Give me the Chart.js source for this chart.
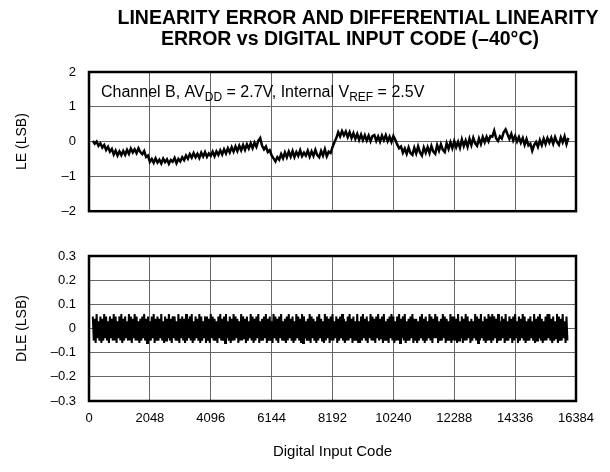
<!DOCTYPE html>
<html>
<head>
<meta charset="utf-8">
<script src="https://cdn.jsdelivr.net/npm/chart.js@4.4.1/dist/chart.umd.min.js"></script>
<style>
  body { margin: 0; background: #fff; }
  #wrap { position: relative; width: 610px; height: 472px; }
  canvas { position: absolute; left: 0; }
  #leChart { top: 0; }
  #dleChart { top: 232px; }
</style>
</head>
<body>
<div id="wrap">
  <canvas id="leChart" width="610" height="232"></canvas>
  <canvas id="dleChart" width="610" height="240"></canvas>
</div>
<script>
// x axis: 14-bit code range, gridline every 2048 codes
var codeTicks = [0, 2048, 4096, 6144, 8192, 10240, 12288, 14336, 16384];
var leTicks = [2, 1, 0, -1, -2];
var dleTicks = [0.3, 0.2, 0.1, 0, -0.1, -0.2, -0.3];

// LE samples, one every 64 codes starting at code 128 (LSB)
var leStartCode = 128;
var leStepCode = 64;
var leValues = [
  0.02, -0.06, 0.00, -0.12, -0.05, -0.17, -0.10, -0.24, -0.15, -0.29, -0.21, -0.37, -0.26, -0.40, -0.28, -0.39,
  -0.27, -0.38, -0.24, -0.35, -0.20, -0.31, -0.22, -0.33, -0.19, -0.30, -0.36, -0.27, -0.44, -0.40, -0.58, -0.50,
  -0.61, -0.48, -0.60, -0.52, -0.63, -0.49, -0.59, -0.51, -0.64, -0.53, -0.58, -0.47, -0.62, -0.50, -0.57, -0.45,
  -0.53, -0.40, -0.49, -0.36, -0.46, -0.33, -0.45, -0.35, -0.47, -0.32, -0.43, -0.30, -0.44, -0.34, -0.41, -0.29,
  -0.42, -0.28, -0.38, -0.25, -0.37, -0.22, -0.34, -0.19, -0.31, -0.16, -0.29, -0.14, -0.27, -0.12, -0.25, -0.10,
  -0.24, -0.08, -0.20, -0.05, -0.19, -0.03, -0.15, 0.02, 0.10, -0.12, -0.22, -0.14, -0.30, -0.25, -0.40, -0.48,
  -0.57, -0.45, -0.52, -0.36, -0.48, -0.31, -0.45, -0.29, -0.43, -0.27, -0.44, -0.30, -0.41, -0.25, -0.42, -0.32,
  -0.40, -0.26, -0.43, -0.28, -0.41, -0.24, -0.39, -0.45, -0.27, -0.40, -0.22, -0.42, -0.29, -0.33, -0.16, -0.02,
  0.10, 0.27, 0.15, 0.30, 0.18, 0.29, 0.13, 0.27, 0.10, 0.24, 0.08, 0.22, 0.05, 0.20, 0.04, 0.18,
  0.03, 0.17, 0.01, 0.16, 0.19, 0.02, 0.15, 0.00, 0.17, 0.04, 0.18, 0.01, 0.14, -0.01, 0.16, 0.05,
  -0.08, -0.19, -0.14, -0.32, -0.20, -0.35, -0.17, -0.33, -0.38, -0.18, -0.34, -0.14, -0.31, -0.40, -0.17, -0.32,
  -0.16, -0.33, -0.13, -0.29, -0.35, -0.10, -0.26, -0.08, -0.24, -0.30, -0.05, -0.21, -0.02, -0.19, 0.01, -0.16,
  -0.01, -0.18, 0.06, -0.13, 0.03, -0.15, 0.08, -0.10, 0.11, -0.05, -0.12, 0.09, -0.07, 0.13, -0.02, 0.14,
  0.01, 0.16, 0.14, 0.31, 0.10, 0.02, 0.15, 0.09, 0.27, 0.35, 0.21, 0.08, 0.22, 0.03, 0.16, 0.00,
  0.13, -0.03, 0.10, -0.09, 0.07, -0.11, -0.06, -0.26, -0.10, -0.01, -0.15, 0.04, -0.10, 0.08, -0.07, 0.10,
  -0.03, 0.11, -0.06, 0.13, -0.01, -0.09, 0.12, -0.02, 0.15, -0.07, 0.11
];

// DLE samples, one every 32 codes starting at code 128, in hundredths of an LSB
var dleStartCode = 128;
var dleStepCode = 32;
var dleHundredths = [
  5, -5, 4, -6, 6, -4, 3, -5, 5, -6, 4, -5, 6, -4, 5, -5, 3, -6, 5, -4,
  4, -5, 6, -5, 5, -6, 3, -4, 5, -5, 6, -6, 4, -5, 5, -4, 3, -5, 6, -5,
  5, -6, 4, -4, 6, -5, 5, -5, 3, -6, 4, -5, 5, -4, 6, -5, 4, -6, 5, -5,
  3, -5, 5, -4, 6, -6, 4, -5, 5, -5, 4, -4, 6, -5, 3, -6, 5, -5, 4, -4,
  6, -5, 4, -6, 5, -4, 5, -5, 3, -5, 6, -6, 4, -4, 5, -5, 4, -6, 6, -5,
  4, -4, 5, -5, 6, -6, 3, -5, 5, -4, 4, -5, 6, -6, 5, -5, 3, -4, 5, -6,
  5, -5, 4, -6, 6, -4, 5, -5, 4, -5, 3, -6, 5, -4, 6, -5, 4, -5, 5, -6,
  6, -4, 3, -5, 5, -6, 4, -5, 6, -5, 5, -4, 4, -6, 3, -5, 6, -5, 5, -4,
  4, -6, 5, -5, 3, -4, 6, -5, 5, -6, 4, -5, 5, -4, 6, -6, 3, -5, 4, -5,
  5, -4, 6, -6, 4, -5, 5, -5, 3, -6, 6, -4, 5, -5, 4, -6, 5, -4, 6, -5,
  3, -5, 4, -6, 5, -5, 6, -4, 4, -5, 5, -6, 3, -5, 6, -4, 5, -5, 4, -6,
  6, -6, 5, -4, 3, -5, 4, -5, 6, -6, 5, -4, 4, -5, 3, -6, 5, -5, 6, -4,
  4, -5, 3, -6, 6, -5, 5, -4, 4, -6, 5, -5, 6, -5, 3, -4, 5, -6, 4, -5,
  5, -4, 6, -5, 4, -6, 3, -5, 5, -5, 6, -4, 4, -6, 5, -5, 3, -5, 6, -6,
  3, -6, 5, -5, 6, -4, 4, -5, 5, -6, 3, -4, 6, -5, 5, -5, 4, -6, 5, -4,
  6, -5, 4, -4, 5, -6, 6, -5, 3, -5, 4, -6, 5, -4, 6, -5, 5, -6, 3, -5,
  5, -5, 6, -6, 4, -4, 5, -5, 6, -6, 3, -5, 4, -5, 5, -4, 6, -6, 4, -5,
  4, -6, 3, -5, 5, -4, 6, -5, 4, -6, 5, -5, 3, -4, 6, -5, 5, -6, 4, -4,
  6, -4, 5, -6, 3, -5, 4, -5, 6, -4, 5, -6, 4, -5, 3, -5, 6, -6, 5, -5,
  5, -5, 4, -6, 6, -5, 3, -4, 5, -6, 4, -5, 6, -5, 5, -4, 3, -6, 4, -5,
  3, -4, 6, -5, 5, -6, 4, -5, 6, -4, 3, -5, 5, -6, 4, -5, 6, -5, 5, -6,
  6, -5, 5, -4, 4, -6, 6, -5, 3, -5, 5, -4, 4, -6, 6, -5, 3, -5, 5, -4,
  4, -6, 5, -5, 6, -4, 3, -6, 5, -5, 4, -4, 6, -5, 5, -6, 3, -5, 4, -5,
  5, -4, 3, -5, 6, -6, 4, -5, 5, -4, 6, -5, 4, -6, 3, -5, 5, -5, 6, -4,
  6, -5, 4, -6, 5, -5, 3, -4, 6, -6, 5, -5, 4, -5, 6, -4, 3, -6, 5, -5
];

var fontFamily = '"Liberation Sans", Arial, Helvetica, sans-serif';

function toPoints(start, step, values, scale) {
  return values.map(function (v, i) {
    return { x: start + i * step, y: v * scale };
  });
}

function dashLabel(value) {
  if (Math.abs(value) < 1e-9) return "0";
  var s = Number.isInteger(value) ? String(Math.abs(value)) : Math.abs(value).toFixed(1);
  return value < 0 ? "\u2013" + s : s;
}

// heavy black box around the plot area
var frame = {
  id: "frame",
  afterDatasetsDraw: function (chart) {
    var a = chart.chartArea;
    var ctx = chart.ctx;
    ctx.save();
    ctx.strokeStyle = "#000";
    ctx.lineWidth = 2.5;
    ctx.strokeRect(a.left, a.top, a.right - a.left, a.bottom - a.top);
    ctx.restore();
  }
};

// two-line heading plus the test-condition note with subscripts
var headings = {
  id: "headings",
  afterDraw: function (chart) {
    var ctx = chart.ctx;
    ctx.save();
    ctx.fillStyle = "#000";
    ctx.textAlign = "center";
    ctx.textBaseline = "alphabetic";
    ctx.font = "bold 19.5px " + fontFamily;
    ctx.fillText("LINEARITY ERROR AND DIFFERENTIAL LINEARITY", 358, 24);
    ctx.fillText("ERROR vs DIGITAL INPUT CODE (\u201340\u00B0C)", 350, 45);

    var parts = [
      ["Channel B, AV", false], ["DD", true], [" = 2.7V, Internal V", false],
      ["REF", true], [" = 2.5V", false]
    ];
    var x = 101;
    var base = 97;
    ctx.textAlign = "left";
    parts.forEach(function (p) {
      ctx.font = (p[1] ? "12px " : "16px ") + fontFamily;
      ctx.fillText(p[0], x, p[1] ? base + 4 : base);
      x += ctx.measureText(p[0]).width;
    });
    ctx.restore();
  }
};

var gridColor = "#666";

function xScale(showLabels) {
  return {
    type: "linear",
    min: 0,
    max: 16384,
    afterBuildTicks: function (scale) {
      scale.ticks = codeTicks.map(function (v) { return { value: v }; });
    },
    grid: { color: gridColor, lineWidth: 1, drawTicks: false },
    border: { display: false },
    ticks: {
      display: showLabels,
      autoSkip: false,
      maxRotation: 0,
      padding: 10,
      color: "#000",
      font: { family: fontFamily, size: 13 },
      callback: function (v) { return String(v); }
    },
    title: {
      display: showLabels,
      text: "Digital Input Code",
      color: "#000",
      font: { family: fontFamily, size: 15 },
      padding: { top: 0, bottom: 11 }
    },
    afterFit: function (scale) {
      scale.height = showLabels ? 71 : 0;
    }
  };
}

function yScale(min, max, tickList, label) {
  return {
    min: min,
    max: max,
    afterBuildTicks: function (scale) {
      scale.ticks = tickList.map(function (v) { return { value: v }; });
    },
    grid: { color: gridColor, lineWidth: 1, drawTicks: false },
    border: { display: false },
    ticks: {
      padding: 13,
      color: "#000",
      font: { family: fontFamily, size: 13 },
      callback: function (v) { return dashLabel(v); }
    },
    title: {
      display: true,
      text: label,
      color: "#000",
      font: { family: fontFamily, size: 14 },
      padding: { top: 14, bottom: 0 }
    },
    afterFit: function (scale) {
      scale.width = 89;
    }
  };
}

var leChart = new Chart(document.getElementById("leChart"), {
  type: "line",
  data: {
    datasets: [
      {
        label: "LE",
        data: toPoints(leStartCode, leStepCode, leValues, 1),
        borderColor: "#000",
        borderWidth: 2.5,
        pointRadius: 0,
        tension: 0,
        fill: false
      }
    ]
  },
  options: {
    responsive: false,
    animation: false,
    layout: { padding: { top: 72, right: 34, bottom: 15, left: 0 } },
    scales: {
      x: xScale(false),
      y: yScale(-2, 2, leTicks, "LE (LSB)")
    },
    plugins: { legend: { display: false }, tooltip: { enabled: false } }
  },
  plugins: [frame, headings]
});

var dleChart = new Chart(document.getElementById("dleChart"), {
  type: "line",
  data: {
    datasets: [
      {
        label: "DLE",
        data: toPoints(dleStartCode, dleStepCode, dleHundredths, 0.01),
        borderColor: "#000",
        borderWidth: 2,
        pointRadius: 0,
        tension: 0,
        fill: false
      }
    ]
  },
  options: {
    responsive: false,
    animation: false,
    layout: { padding: { top: 24, right: 34, bottom: 0, left: 0 } },
    scales: {
      x: xScale(true),
      y: yScale(-0.3, 0.3, dleTicks, "DLE (LSB)")
    },
    plugins: { legend: { display: false }, tooltip: { enabled: false } }
  },
  plugins: [frame]
});
</script>
</body>
</html>
